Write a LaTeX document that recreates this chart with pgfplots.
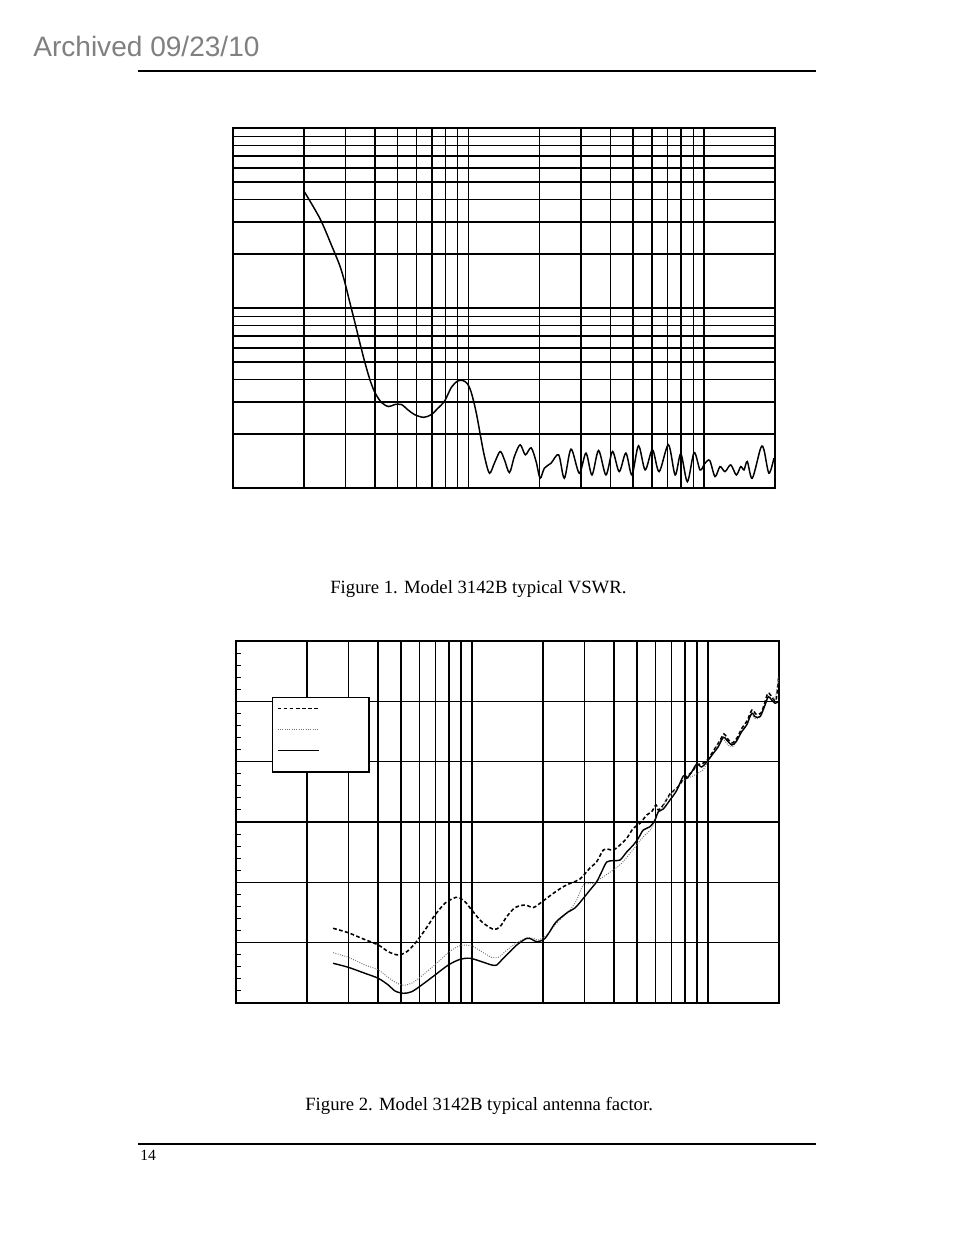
\documentclass[border=0pt]{standalone}
\usepackage{pgfplots}
\pgfplotsset{compat=1.18}
\usepackage{fontspec}
\setmainfont{Liberation Serif}
\newfontfamily\arialfont{Liberation Sans}
\definecolor{archgray}{RGB}{128,128,128}
\definecolor{dotgray}{RGB}{115,115,115}

\begin{document}
\begin{tikzpicture}[x=0.6414pt, y=-0.6414pt]
\fill[white] (0,0) rectangle (954,1235);
\node[anchor=base west, inner sep=0, text=archgray, font=\arialfont\fontsize{18}{20}\selectfont] at (33,57) {Archived 09/23/10};
\draw[line width=0.8pt] (138,71) -- (816,71);
\draw[line width=0.8pt] (138,1144) -- (816,1144);
\node[anchor=base west, inner sep=0, font=\fontsize{10}{12}\selectfont] at (140,1160) {14};
\node[anchor=base west, inner sep=0, font=\fontsize{12}{14}\selectfont] at (330,593) {Figure 1. Model 3142B typical VSWR.};
\node[anchor=base west, inner sep=0, font=\fontsize{12}{14}\selectfont] at (305,1110) {Figure 2. Model 3142B typical antenna factor.};
\coordinate (vswr) at (233,488);
\coordinate (af) at (236,1003);

% Figure 1: VSWR, log frequency axis 10 MHz - 2 GHz
\begin{axis}[at={(vswr)}, anchor=south west, scale only axis,
  width=347.6pt, height=230.9pt,
  xmode=log, xmin=10, xmax=2000,
  ymode=log, ymin=1, ymax=100,
  xticklabels={}, yticklabels={},
  grid=both,
  major grid style={black, line width=0.95pt},
  minor grid style={black, line width=0.95pt},
  axis line style={black, line width=0.95pt},
  major tick length=0pt, minor tick length=0pt]
\addplot[black, line width=0.95pt, smooth, tension=0.5] coordinates {
 (20.0,44.7) (23.4,31.4) (26.2,22.3) (28.4,17.2) (29.8,13.97) (31.3,10.8)
 (32.9,8.35) (34.5,6.46) (36.3,4.99) (38.1,4.01) (40.0,3.40) (42.7,2.985)
 (45.8,2.835) (48.6,2.909) (51.9,2.909) (55.1,2.728) (59.0,2.557) (64.5,2.470)
 (69.5,2.557) (73.9,2.763) (79.1,3.035) (84.5,3.62) (89.8,3.926) (94.3,3.96)
 (98.7,3.81) (102.7,3.40) (107.8,2.624) (113.2,1.854) (116.9,1.496) (122.7,1.208)
 (128.9,1.379) (136.2,1.595) (142.1,1.434) (149.2,1.218) (156.6,1.496) (165.6,1.739)
 (174.3,1.529) (184.4,1.673) (193.6,1.403) (201.3,1.133) (209.9,1.289) (224.1,1.374)
 (241.3,1.529) (255.2,1.133) (272.4,1.645) (295.3,1.208) (315.3,1.563) (334.3,1.182)
 (356.6,1.616) (383.3,1.182) (408.7,1.595) (436.3,1.233) (465.8,1.563) (494.0,1.182)
 (526.8,1.717) (562.3,1.260) (603.8,1.631) (644.6,1.233) (705.9,1.739) (753.9,1.182)
 (796.9,1.549) (849.8,1.084) (907.1,1.575) (962.0,1.260) (1009.7,1.374) (1057.3,1.421)
 (1113.3,1.157) (1168.9,1.315) (1227.4,1.233) (1297.8,1.345) (1370.8,1.182) (1430.8,1.315)
 (1477.6,1.260) (1526.1,1.403) (1602.4,1.133) (1739.4,1.667) (1796.0,1.631) (1885.8,1.208)
 (1980.6,1.465)
};
\end{axis}

% Figure 2: antenna factor
\begin{axis}[at={(af)}, anchor=south west, scale only axis,
  width=348.3pt, height=232.2pt,
  xmode=log, xmin=10, xmax=2000,
  ymin=0, ymax=60, ytick distance=10, minor y tick num=4,
  xticklabels={}, yticklabels={},
  xmajorgrids, xminorgrids, ymajorgrids,
  major grid style={black, line width=0.95pt},
  minor grid style={black, line width=0.95pt},
  axis line style={black, line width=0.95pt},
  ytick pos=left, major tick length=0pt, minor tick length=3.4pt,
  minor tick style={black, line width=0.7pt},
  legend style={at={(0.0663,0.8453)}, anchor=north west, draw=black, line width=0.95pt,
    fill=white, inner xsep=2.6pt, inner ysep=3.5pt, row sep=0pt, column sep=0pt,
    nodes={inner sep=0pt}},
  legend cell align=left,
  legend image code/.code={
    \path[draw=none, fill=none] (0pt,-10pt) rectangle (55.1pt,3.5pt);
    \draw[#1] (0pt,0pt) -- (26.3pt,0pt);}]
\addplot[black, line width=1pt, dash pattern=on 2.4pt off 1.5pt, smooth, tension=0.5] coordinates {
 (25.8,12.38) (29.9,11.65) (34.1,10.72) (40.1,9.61) (44.2,8.50) (48.7,7.96)
 (52.9,8.50) (57.4,9.90) (63.2,12.10) (69.7,14.59) (76.8,16.53) (83.3,17.35)
 (87.5,17.52) (93.4,16.79) (99.7,15.42) (109.9,13.48) (123.1,12.22) (131.4,12.65)
 (140.3,14.30) (152.1,15.80) (167.8,16.24) (181.9,15.83) (197.4,16.74) (221.1,18.18)
 (243.8,19.28) (264.6,19.94) (286.9,20.55) (316.2,22.38) (337.6,23.42) (360.1,25.36)
 (378.1,25.48) (397.0,25.36) (423.8,26.19) (452.4,27.30) (482.5,28.96) (515.1,29.79)
 (550.0,31.16) (577.4,31.71) (602.2,32.82) (615.8,31.99) (646.6,32.82) (690.2,34.64)
 (736.9,35.59) (783.8,36.96) (814.9,37.63) (855.6,38.29) (898.4,39.45) (952.4,39.73)
 (1000,40.44) (1060.2,41.94) (1113.3,43.26) (1168.9,44.59) (1203.6,43.92) (1263.9,43.10)
 (1327.2,43.92) (1393.5,45.58) (1463.2,46.74) (1536.0,48.57) (1597.4,47.90) (1677.3,48.07)
 (1743.8,49.89) (1796.0,51.38) (1867.7,50.72) (1942.0,50.22) (1999,54.70)
};
\addlegendentry{\mbox{}}
\addplot[dotgray, line width=0.6pt, dash pattern=on 0.6pt off 0.9pt, smooth, tension=0.5] coordinates {
 (25.8,8.34) (29.9,7.57) (35.2,6.30) (40.1,5.47) (45.7,3.81) (50.4,2.98)
 (55.5,3.27) (63.2,4.92) (72.0,6.85) (82.0,8.78) (90.4,9.56) (99.7,9.45)
 (109.9,8.50) (121.2,7.57) (129.3,7.57) (138.0,8.50) (149.6,9.61) (167.8,10.72)
 (181.9,10.72) (190.9,10.44) (207.3,11.27) (224.7,12.93) (243.0,14.25) (260.2,15.42)
 (277.8,17.07) (296.3,19.56) (326.6,19.84) (360.1,20.93) (397.0,22.05) (430.9,23.16)
 (467.2,24.81) (498.8,26.19) (531.9,27.56) (577.4,28.96) (606.3,31.16) (636.6,32.27)
 (668.3,33.65) (701.8,34.76) (736.9,35.59) (783.8,36.80) (823.0,37.29) (864.0,37.63)
 (907.2,38.12) (952.4,38.62) (1000,40.11) (1050.0,41.27) (1102.6,42.93) (1157.7,43.76)
 (1215.3,42.76) (1263.9,42.43) (1327.2,43.43) (1393.5,45.25) (1463.2,46.25) (1521.3,47.74)
 (1597.4,47.07) (1677.3,47.57) (1743.8,49.23) (1796.0,50.72) (1867.7,50.22) (1942.0,51.22)
 (1999,54.20)
};
\addlegendentry{\mbox{}}
\addplot[black, line width=0.9pt, smooth, tension=0.5] coordinates {
 (25.8,6.58) (29.9,5.92) (35.2,4.92) (40.1,4.09) (44.2,2.98) (47.2,1.99)
 (51.2,1.61) (55.5,1.87) (61.2,2.98) (69.7,4.64) (79.4,6.30) (89.0,7.24)
 (98.1,7.41) (109.9,6.85) (121.2,6.30) (127.3,6.30) (133.6,7.13) (142.5,8.24)
 (154.7,9.61) (170.6,10.72) (179.1,10.56) (188.1,10.16) (203.9,10.72) (224.7,13.21)
 (236.0,14.04) (255.2,15.08) (273.2,15.75) (296.3,17.35) (316.2,18.73) (337.6,20.11)
 (354.5,21.76) (372.3,23.37) (397.0,23.59) (423.8,23.70) (452.4,25.03) (482.5,26.19)
 (506.7,27.30) (531.9,28.68) (568.0,29.22) (596.3,30.33) (615.8,31.71) (646.6,32.16)
 (690.2,33.65) (736.9,35.22) (786.0,37.63) (812.5,37.24) (853.1,38.29) (895.8,39.62)
 (940.4,39.12) (987.4,39.95) (1053.2,41.39) (1105.6,42.48) (1160.9,44.04) (1200.0,43.59)
 (1260.1,42.76) (1314.1,43.31) (1389.4,44.97) (1458.8,46.08) (1531.8,48.02) (1581.9,47.46)
 (1660.8,47.46) (1743.8,49.39) (1801.4,50.77) (1862.2,50.22) (1923.2,49.68) (1986.1,49.94)
};
\addlegendentry{\mbox{}}
\end{axis}
\end{tikzpicture}
\end{document}
